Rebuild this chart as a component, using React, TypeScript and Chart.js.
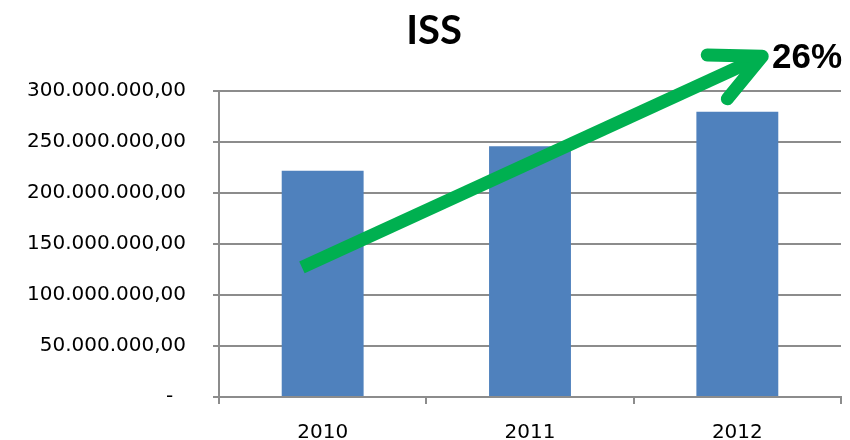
import React, { useEffect, useRef } from "react";
import { Chart, registerables } from "chart.js";

Chart.register(...registerables);

const categories = ["2010", "2011", "2012"];
const issValues = [221900000, 245800000, 279700000];
const yTicksMin = 0;
const yTicksMax = 300000000;
const yTickStep = 50000000;
const titleText = "ISS";
const growthLabel = "26%";
// arrow endpoints in data space (category index, value)
const arrowFrom = { x: -0.1, y: 127000000 };
const arrowTo = { x: 2.12, y: 334000000 };

const BAR_COLOR = "#4F81BD";
const GRID_COLOR = "#8c8c8c";
const ARROW_COLOR = "#00B050";

function formatBR(v: number): string {
  if (v === 0) return "-  ";
  const intPart = Math.round(v).toString().replace(/\B(?=(\d{3})+(?!\d))/g, ".");
  return intPart + ",00";
}

const overlayPlugin = {
  id: "overlay",
  afterDraw(chart: any) {
    const ctx = chart.ctx;
    const xs = chart.scales.x;
    const ys = chart.scales.y;
    ctx.save();
    // title
    ctx.fillStyle = "#000";
    ctx.font = "bold 40px Lato";
    ctx.textAlign = "center";
    ctx.textBaseline = "alphabetic";
    ctx.fillText(titleText, 434, 44);

    // arrow
    const x1 = xs.getPixelForValue(arrowFrom.x);
    const y1 = ys.getPixelForValue(arrowFrom.y);
    const x2 = xs.getPixelForValue(arrowTo.x);
    const y2 = ys.getPixelForValue(arrowTo.y);
    const ang = Math.atan2(y1 - y2, x1 - x2);
    const armLen = 55;
    const spread = (26 * Math.PI) / 180;
    ctx.strokeStyle = ARROW_COLOR;
    ctx.lineWidth = 13;
    ctx.lineCap = "butt";
    ctx.beginPath();
    ctx.moveTo(x1, y1);
    ctx.lineTo(x2 - 4 * Math.cos(ang + Math.PI), y2 - 4 * Math.sin(ang + Math.PI));
    ctx.stroke();
    ctx.lineCap = "round";
    ctx.lineJoin = "round";
    ctx.beginPath();
    ctx.moveTo(x2 + armLen * Math.cos(ang + spread), y2 + armLen * Math.sin(ang + spread));
    ctx.lineTo(x2, y2);
    ctx.lineTo(x2 + armLen * Math.cos(ang - spread), y2 + armLen * Math.sin(ang - spread));
    ctx.stroke();

    // growth label
    ctx.fillStyle = "#000";
    ctx.font = "bold 35px 'Liberation Sans'";
    ctx.textAlign = "left";
    ctx.textBaseline = "alphabetic";
    ctx.fillText(growthLabel, 772, 68);
    ctx.restore();
  },
};

export default function App() {
  const ref = useRef<HTMLCanvasElement>(null);
  useEffect(() => {
    document.body.style.margin = "0";
    const canvas = ref.current!;
    const chart = new Chart(canvas, {
      type: "bar",
      data: {
        labels: categories,
        datasets: [
          {
            label: "ISS",
            data: issValues,
            backgroundColor: BAR_COLOR,
            borderWidth: 0,
            barPercentage: 0.395,
            categoryPercentage: 1,
          },
        ],
      },
      options: {
        responsive: false,
        animation: false,
        devicePixelRatio: 1,
        layout: { padding: { top: 91, right: 9, left: 0, bottom: 0 } },
        plugins: {
          legend: { display: false },
          title: { display: false },
          tooltip: { enabled: false },
        },
        scales: {
          x: {
            offset: true,
            grid: {
              offset: true,
              drawOnChartArea: false,
              drawTicks: true,
              tickLength: 7,
              color: GRID_COLOR,
              lineWidth: 2,
            },
            border: { color: GRID_COLOR, width: 2 },
            ticks: {
              color: "#000",
              font: { family: "'DejaVu Sans'", size: 20 },
              padding: 17,
              maxRotation: 0,
            },
            afterFit: (scale: any) => {
              scale.height = 43;
            },
          },
          y: {
            min: yTicksMin,
            max: yTicksMax,
            grid: {
              color: GRID_COLOR,
              lineWidth: 2,
              drawTicks: true,
              tickLength: 6,
            },
            border: { color: GRID_COLOR, width: 2 },
            ticks: {
              stepSize: yTickStep,
              color: "#000",
              font: { family: "'DejaVu Sans'", size: 20 },
              padding: 27,
              callback: (v: any) => formatBR(Number(v)),
            },
            afterFit: (scale: any) => {
              scale.width = 219;
            },
          },
        },
      },
      plugins: [overlayPlugin],
    });
    return () => chart.destroy();
  }, []);
  return (
    <div style={{ width: 850, height: 440 }}>
      <canvas ref={ref} width={850} height={440} style={{ display: "block", width: 850, height: 440 }} />
    </div>
  );
}
